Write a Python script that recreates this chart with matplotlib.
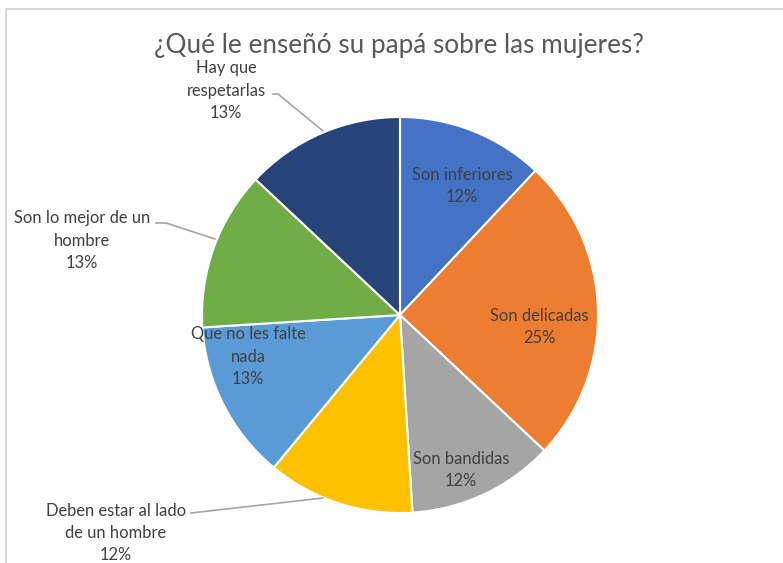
import matplotlib
matplotlib.use("Agg")
import matplotlib.pyplot as plt

# Survey answers: "What did your father teach you about women?"
labels = ["Son inferiores", "Son delicadas", "Son bandidas",
          "Deben estar al lado\nde un hombre", "Que no les falte\nnada",
          "Son lo mejor de un\nhombre", "Hay que\nrespetarlas"]
values = [12, 25, 12, 12, 13, 13, 13]
colors = ["#4472C4", "#ED7D31", "#A5A5A5", "#FFC000", "#5B9BD5", "#70AD47", "#264478"]

W, H = 783, 563
fig = plt.figure(figsize=(W / 100, H / 100), dpi=100)
ax = fig.add_axes([0, 0, 1, 1])

FONT = "Lato"
TXT = "#404040"
LBL_SIZE = 11.9
LS = 1.5

cx, cy, r = 400, H - 315, 198
ax.pie(values, colors=colors, startangle=90, counterclock=False,
       center=(cx, cy), radius=r, frame=True,
       wedgeprops=dict(edgecolor="white", linewidth=1.5))
ax.set_xlim(0, W)
ax.set_ylim(0, H)
ax.set_aspect("equal")
ax.axis("off")

# chart frame
ax.plot([6, 6, W + 5], [-5, H - 9, H - 9], color="#D9D9D9", lw=1.5, solid_capstyle="butt")

ax.text(399, H - 45, "¿Qué le enseñó su papá sobre las mujeres?", ha="center", va="center",
        fontsize=18.8, color="#595959", family=FONT)

def pct(v):
    return f"{v}%"

# labels inside the wedges
inside = {0: (462, 186), 1: (539, 327), 2: (461, 470), 4: (248, 357)}
for i, (x, y) in inside.items():
    ax.text(x, H - y, labels[i] + "\n" + pct(values[i]), ha="center", va="center",
            fontsize=LBL_SIZE, color=TXT, family=FONT, linespacing=LS)

# labels outside with leader lines
outside = {
    6: ((226, 91), [(273, 94), (278, 94), (323, 131)]),
    5: ((82, 241), [(156, 223), (166, 223), (215, 239)]),
    3: ((116, 533), [(191, 513), (323, 498)]),
}
for i, ((x, y), pts) in outside.items():
    ax.text(x, H - y, labels[i] + "\n" + pct(values[i]), ha="center", va="center",
            fontsize=LBL_SIZE, color=TXT, family=FONT, linespacing=LS)
    ax.plot([p[0] for p in pts], [H - p[1] for p in pts], color="#A6A6A6", lw=1.2)

fig.savefig("out.png", dpi=100)
